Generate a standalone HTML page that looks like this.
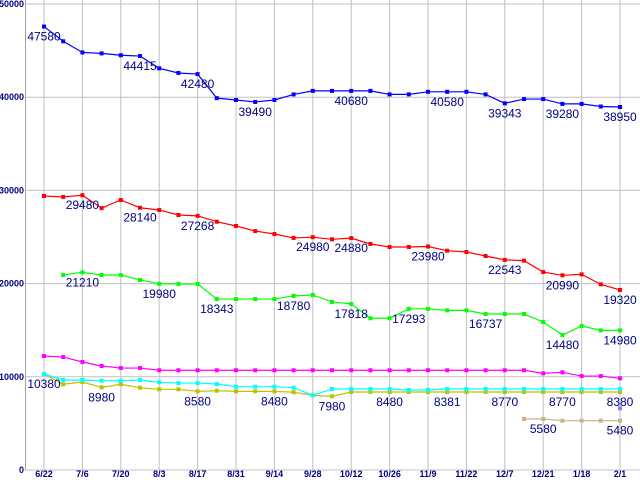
<!DOCTYPE html>
<html><head><meta charset="utf-8">
<style>
html,body{margin:0;padding:0;background:#fff;}
svg{display:block;}
.ax{font-family:"Liberation Sans",sans-serif;font-size:9px;font-weight:bold;fill:#000080;}
.lb{font-family:"Liberation Sans",sans-serif;font-size:12px;fill:#000080;}
</style></head>
<body>
<svg id="chart" width="640" height="480" xmlns="http://www.w3.org/2000/svg"></svg>
<script>
const xLabels = ["6/22","7/6","7/20","8/3","8/17","8/31","9/14","9/28","10/12","10/26","11/9","11/22","12/7","12/21","1/18","2/1"];
const yTicks = [0,10000,20000,30000,40000,50000];
const blueVals = [47580,46000,44800,44700,44500,44415,43100,42600,42480,39900,39700,39490,39700,40300,40680,40680,40680,40680,40300,40300,40580,40580,40580,40300,39343,39800,39800,39280,39280,39000,38950];
const redVals = [29400,29300,29480,28100,28970,28140,27900,27360,27268,26640,26180,25640,25320,24900,24980,24750,24880,24250,23930,23930,23980,23530,23390,22960,22543,22460,21240,20890,20990,19920,19320];
const greenVals = [null,20920,21210,20920,20920,20390,19980,19960,19960,18343,18343,18343,18343,18680,18780,18030,17818,16280,16280,17293,17293,17130,17130,16737,16737,16737,15880,14480,15450,14980,14980];
const magentaVals = [12230,12120,11590,11160,10940,10940,10700,10700,10700,10700,10700,10700,10700,10700,10700,10700,10700,10700,10700,10700,10700,10700,10700,10700,10700,10700,10370,10480,10080,10080,9840];
const cyanVals = [10300,9660,9660,9580,9580,9660,9410,9330,9330,9230,8940,8940,8940,8830,8010,8690,8690,8690,8690,8580,8580,8690,8690,8690,8690,8690,8690,8690,8690,8690,8690];
const oliveVals = [10300,9200,9440,8870,9200,8830,8660,8660,8440,8510,8440,8440,8440,8340,8010,7900,8370,8370,8370,8370,8370,8370,8370,8370,8370,8370,8370,8370,8370,8370,8370];
const tanVals = [null,null,null,null,null,null,null,null,null,null,null,null,null,null,null,null,null,null,null,null,null,null,null,null,null,5470,5470,5290,5290,5290,5290];
const lonePoint = {i:30, v:6620};
const blueLabels = [[0,47580],[5,44415],[8,42480],[11,39490],[16,40680],[21,40580],[24,39343],[27,39280],[30,38950]];
const redLabels = [[2,29480],[5,28140],[8,27268],[14,24980],[16,24880],[20,23980],[24,22543],[27,20990],[30,19320]];
const greenLabels = [[2,21210],[6,19980],[9,18343],[13,18780],[16,17818],[19,17293],[23,16737],[27,14480],[30,14980]];
const oliveLabels = [[0,10380],[3,8980],[8,8580],[12,8480],[15,7980],[18,8480],[21,8381],[24,8770],[27,8770],[30,8380]];
const tanLabels = [[26,5580],[30,5480]];

const NS="http://www.w3.org/2000/svg";
const svg=document.getElementById('chart');
const X=i=>44+i*19.2;
const Y=v=>470-v*0.00932;
function mk(t,a,p){const e=document.createElementNS(NS,t);for(const k in a)e.setAttribute(k,a[k]);(p||svg).appendChild(e);return e;}

const grid=mk('g',{});


yTicks.forEach(v=>{
  const l=mk('line',{x1:25,x2:640,y1:Y(v),y2:Y(v),stroke:'#c0c0c0','stroke-width':1},grid);
  
  
  const s=String(v);
  const t=mk('text',{x:24,y:Y(v)+3,'text-anchor':'end',class:'ax',textLength:s.length*5,lengthAdjust:'spacingAndGlyphs'});
  t.textContent=s;
  
  
});
xLabels.forEach((s,k)=>{
  const x=X(k*2);
  const l=mk('line',{x1:x,x2:x,y1:0,y2:470,stroke:'#c0c0c0','stroke-width':1},grid);
  
  
  const t=mk('text',{x:x,y:477,'text-anchor':'middle',class:'ax'});
  t.textContent=s;
  
  
});
const ax=mk('line',{x1:25.5,x2:25.5,y1:0,y2:470,stroke:'#a0a0a0'});



function series(vals,color,name){
  const g=mk('g',{});
  
  
  let d='';let started=false;
  vals.forEach((v,i)=>{if(v==null)return;d+=(started?'L':'M')+X(i)+' '+Y(v)+' ';started=true;});
  const p=mk('path',{d:d,fill:'none',stroke:color,'stroke-width':1.2},g);
  
  
  vals.forEach((v,i)=>{if(v==null)return;
    const r=mk('rect',{x:X(i)-2,y:Y(v)-2,width:4,height:4,fill:color},g);
    
    
  });
}
function labels(list,vals){
  list.forEach(([i,txt])=>{
    const t=mk('text',{x:X(i),y:Y(vals[i])+14,'text-anchor':'middle',class:'lb'});
    t.textContent=txt;
    
    
  });
}
series(tanVals,'#d0b088','series-tan');
series(oliveVals,'#c0c000','series-olive');
series(cyanVals,'#00ffff','series-cyan');
series(magentaVals,'#ff00ff','series-magenta');
series(greenVals,'#00ff00','series-green');
series(redVals,'#ff0000','series-red');
series(blueVals,'#0000ff','series-blue');
const lp=mk('rect',{x:X(lonePoint.i)-2,y:Y(lonePoint.v)-2,width:4,height:4,fill:'#8080ff'});


labels(blueLabels,blueVals);
labels(redLabels,redVals);
labels(greenLabels,greenVals);
labels(oliveLabels,oliveVals);
labels(tanLabels,tanVals);
</script>
</body></html>
